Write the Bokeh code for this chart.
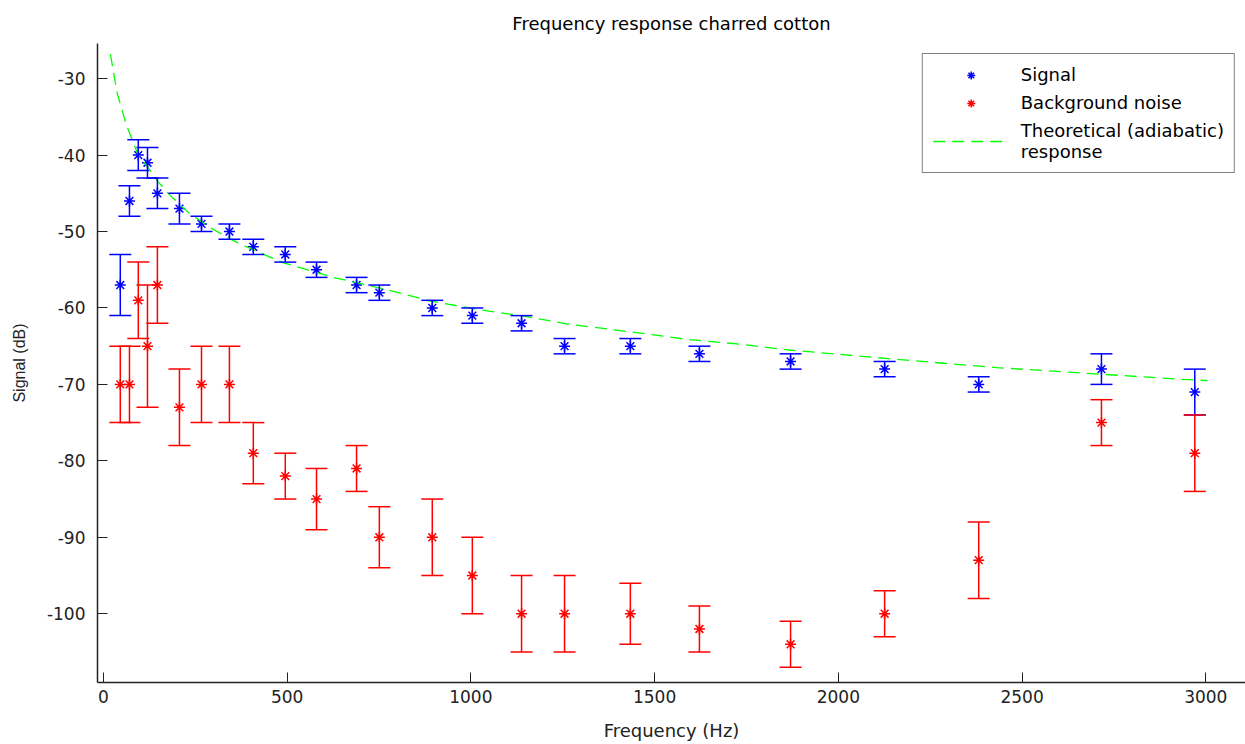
from bokeh.plotting import figure
from bokeh.models import (ColumnDataSource, Whisker, TeeHead, Legend, LegendItem,
                          Range1d, FixedTicker)
from bokeh.embed import file_html
from bokeh.resources import INLINE

# ---- data ----
freq = [46, 71, 95, 120, 147, 207, 267, 343, 408, 495, 580, 689, 751, 895,
        1004, 1138, 1255, 1434, 1622, 1870, 2126, 2382, 2716, 2970]
signal = [-57, -46, -40, -41, -45, -47, -49, -50, -52, -53, -55, -57, -58, -60,
          -61, -62, -65, -65, -66, -67, -68, -70, -68, -71]
signal_err = [4, 2, 2, 2, 2, 2, 1, 1, 1, 1, 1, 1, 1, 1,
              1, 1, 1, 1, 1, 1, 1, 1, 2, 3]
noise = [-70, -70, -59, -65, -57, -73, -70, -70, -79, -82, -85, -81, -90, -90,
         -95, -100, -100, -100, -102, -104, -100, -93, -75, -79]
noise_err = [5, 5, 5, 8, 5, 5, 5, 5, 4, 3, 4, 3, 4, 5,
             5, 5, 5, 4, 3, 3, 3, 5, 3, 5]
theory_freq = [19, 26, 37, 49, 58, 67, 93, 120, 147, 162, 182, 231, 291, 354,
               427, 490, 626, 762, 890, 1007, 1135, 1263, 1462, 1587, 1723,
               1867, 2129, 2431, 2629, 2921, 3005]
theory_db = [-26.8, -28.7, -31.8, -33.8, -35.3, -36.6, -39.8, -41.5, -43.4,
             -44.2, -45.3, -47.5, -49.5, -51.2, -52.8, -54.1, -56.0, -57.5,
             -59.1, -60.1, -61.0, -62.1, -63.3, -64.1, -64.7, -65.5, -66.6,
             -67.8, -68.4, -69.3, -69.5]
x_ticks = [0, 500, 1000, 1500, 2000, 2500, 3000]
y_ticks = [-100, -90, -80, -70, -60, -50, -40, -30]

FONT = "DejaVu Sans"

p = figure(width=1245, height=744, output_backend="svg", toolbar_location=None,
           x_range=Range1d(-16, 3108), y_range=Range1d(-109, -25.4),
           min_border_left=97, min_border_right=0, min_border_top=43,
           min_border_bottom=62, title="Frequency response charred cotton")
p.outline_line_color = None
p.grid.visible = False
p.background_fill_color = "white"
p.border_fill_color = "white"

p.title.align = "center"
p.title.text_font = FONT
p.title.text_font_size = "18px"
p.title.text_font_style = "normal"
p.title.text_color = "black"
p.title.standoff = 19

for ax in (p.xaxis[0], p.yaxis[0]):
    ax.axis_line_color = "#222222"
    ax.axis_line_width = 1.5
    ax.major_tick_line_color = "#222222"
    ax.major_tick_in = 10
    ax.major_tick_out = 0
    ax.minor_tick_line_color = None
    ax.major_label_text_font = FONT
    ax.major_label_text_font_size = "17px"
    ax.major_label_text_color = "#222222"
    ax.axis_label_text_font_style = "normal"
    ax.axis_label_text_color = "#222222"

p.xaxis.axis_label_text_font = FONT
p.xaxis.axis_label_text_font_size = "18px"
p.yaxis.axis_label_text_font = "Liberation Sans"
p.yaxis.axis_label_text_font_size = "16px"

p.xaxis.ticker = FixedTicker(ticks=x_ticks)
p.yaxis.ticker = FixedTicker(ticks=y_ticks)
p.xaxis.major_label_overrides = {t: str(t) for t in x_ticks}
p.yaxis.major_label_overrides = {t: str(t) for t in y_ticks}
p.xaxis.axis_label = "Frequency (Hz)"
p.yaxis.axis_label = "Signal (dB)"
p.xaxis.major_label_standoff = 7
p.yaxis.major_label_standoff = 12
p.xaxis.axis_label_standoff = 14
p.yaxis.axis_label_standoff = 16

sig_src = ColumnDataSource(dict(
    f=freq, v=signal,
    u=[a + b for a, b in zip(signal, signal_err)],
    l=[a - b for a, b in zip(signal, signal_err)]))
noi_src = ColumnDataSource(dict(
    f=freq, v=noise,
    u=[a + b for a, b in zip(noise, noise_err)],
    l=[a - b for a, b in zip(noise, noise_err)]))

BLUE = "#0000FF"
RED = "#FF0000"
GREEN = "#00FF00"

for src, col in ((sig_src, BLUE), (noi_src, RED)):
    w = Whisker(source=src, base="f", upper="u", lower="l", dimension="height",
                line_color=col, line_width=1.5, level="glyph",
                upper_head=TeeHead(size=22, line_color=col, line_width=1.5),
                lower_head=TeeHead(size=22, line_color=col, line_width=1.5))
    p.add_layout(w)

r_sig = p.scatter("f", "v", source=sig_src, marker="asterisk", size=11,
                  line_color=BLUE, line_width=1.5)
r_noi = p.scatter("f", "v", source=noi_src, marker="asterisk", size=11,
                  line_color=RED, line_width=1.5)
r_th = p.line(theory_freq, theory_db, line_color=GREEN, line_width=1.3,
              line_dash="12 7")

legend = Legend(items=[
    LegendItem(label="Signal", renderers=[r_sig]),
    LegendItem(label="Background noise", renderers=[r_noi]),
    LegendItem(label="Theoretical (adiabatic)\nresponse", renderers=[r_th]),
], location="top_right")
legend.label_text_font = FONT
legend.label_text_font_size = "18px"
legend.label_text_line_height = 1.5
legend.label_text_color = "black"
legend.border_line_color = "black"
legend.border_line_width = 1.2
legend.background_fill_color = "white"
legend.background_fill_alpha = 1
legend.margin = 10
legend.padding = 10
legend.glyph_width = 76
legend.label_standoff = 12
legend.label_height = 18
legend.spacing = 7
p.add_layout(legend)

open("out.html", "w").write(file_html(p, INLINE))
